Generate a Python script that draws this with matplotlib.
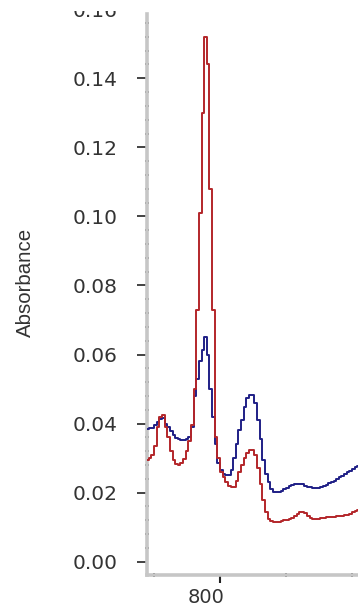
import matplotlib
matplotlib.use("Agg")
import matplotlib.pyplot as plt
from matplotlib import font_manager
from matplotlib.ticker import MultipleLocator, FormatStrFormatter
from matplotlib.transforms import ScaledTranslation
from matplotlib.patches import Rectangle

# Wavelength grid (nm) and the two absorbance spectra
wavelength = [745, 747, 749, 751, 753, 755, 757, 759, 761, 763,
              765, 767, 769, 771, 773, 775, 777, 779, 781, 783,
              785, 787, 789, 791, 793, 795, 797, 799, 801, 803,
              805, 807, 809, 811, 813, 815, 817, 819, 821, 823,
              825, 827, 829, 831, 833, 835, 837, 839, 841, 843,
              845, 847, 849, 851, 853, 855, 857, 859, 861, 863,
              865, 867, 869, 871, 873, 875, 877, 879, 881, 883,
              885, 887, 889, 891, 893, 895, 897, 899, 901, 903, 905]

absorbance_red = [0.0295, 0.0299, 0.0310, 0.0335, 0.0390, 0.0420, 0.0425, 0.0390, 0.0360, 0.0320,
                  0.0295, 0.0282, 0.0280, 0.0285, 0.0298, 0.0320, 0.0350, 0.0395, 0.0500, 0.0730,
                  0.1010, 0.1300, 0.1520, 0.1440, 0.1080, 0.0730, 0.0360, 0.0300, 0.0260, 0.0245,
                  0.0232, 0.0220, 0.0215, 0.0215, 0.0235, 0.0260, 0.0280, 0.0300, 0.0315, 0.0323,
                  0.0323, 0.0310, 0.0270, 0.0225, 0.0180, 0.0145, 0.0125, 0.0118, 0.0116, 0.0116,
                  0.0116, 0.0118, 0.0120, 0.0121, 0.0124, 0.0128, 0.0132, 0.0138, 0.0144, 0.0145,
                  0.0140, 0.0133, 0.0126, 0.0123, 0.0123, 0.0124, 0.0126, 0.0128, 0.0129, 0.0130,
                  0.0130, 0.0130, 0.0131, 0.0132, 0.0133, 0.0134, 0.0136, 0.0139, 0.0143, 0.0147, 0.0150]

absorbance_blue = [0.0385, 0.0386, 0.0388, 0.0395, 0.0405, 0.0413, 0.0415, 0.0400, 0.0390, 0.0378,
                   0.0367, 0.0358, 0.0354, 0.0353, 0.0353, 0.0354, 0.0360, 0.0390, 0.0480, 0.0530,
                   0.0580, 0.0613, 0.0652, 0.0600, 0.0500, 0.0420, 0.0340, 0.0285, 0.0266, 0.0255,
                   0.0251, 0.0252, 0.0266, 0.0300, 0.0340, 0.0380, 0.0410, 0.0449, 0.0475, 0.0483,
                   0.0483, 0.0460, 0.0410, 0.0355, 0.0295, 0.0255, 0.0230, 0.0210, 0.0203, 0.0202,
                   0.0203, 0.0206, 0.0210, 0.0214, 0.0219, 0.0223, 0.0225, 0.0226, 0.0226, 0.0224,
                   0.0220, 0.0217, 0.0215, 0.0213, 0.0213, 0.0214, 0.0217, 0.0220, 0.0223, 0.0227,
                   0.0231, 0.0235, 0.0240, 0.0244, 0.0249, 0.0254, 0.0259, 0.0264, 0.0269, 0.0274, 0.0278]


def has_font(name):
    try:
        font_manager.findfont(font_manager.FontProperties(family=name),
                              fallback_to_default=False)
        return True
    except ValueError:
        return False


W, H = 358, 606
fig = plt.figure(figsize=(W / 100, H / 100), dpi=100)
fig.patch.set_facecolor("white")

ax = fig.add_axes([146.5 / W, 31.5 / H, (W - 146.5) / W, 569.4 / H])
ax.set_facecolor("white")

ax.plot(wavelength, absorbance_blue, drawstyle="steps-mid", color="#1f1f86", lw=1.4, zorder=3)
ax.plot(wavelength, absorbance_red, drawstyle="steps-mid", color="#b3262a", lw=1.4, zorder=4)

ax.set_xlim(744.3, 904.55)
ax.set_ylim(-0.003707, 0.1612)

# Axis lines: light grey bars, only left and bottom
for side in ("top", "right"):
    ax.spines[side].set_visible(False)
for side in ("left", "bottom"):
    ax.spines[side].set_color("#c6c6c6")
    ax.spines[side].set_linewidth(2.6)
ax.spines["left"].set_bounds(-0.003707, 0.1586)

ax.xaxis.set_major_locator(MultipleLocator(200))
ax.xaxis.set_minor_locator(MultipleLocator(50))
ax.yaxis.set_major_locator(MultipleLocator(0.02))
ax.yaxis.set_minor_locator(MultipleLocator(0.004))
ax.yaxis.set_major_formatter(FormatStrFormatter("%.2f"))

tick_font = "DejaVu Sans"
ax.tick_params(axis="y", which="major", direction="out", length=7.2, width=1.2,
               color="#222222", pad=30, labelsize=14.5, labelcolor="#333333")
ax.tick_params(axis="y", which="minor", direction="inout", length=3.0, width=1.1,
               color="#222222")
ax.tick_params(axis="x", which="major", direction="out", length=5.5, width=1.5,
               color="#222222", pad=4.5, labelsize=14, labelcolor="#333333")
ax.tick_params(axis="x", which="minor", direction="inout", length=2.5, width=1.4,
               color="#222222")

for lbl in ax.get_yticklabels():
    lbl.set_horizontalalignment("center")
    lbl.set_fontfamily(tick_font)
shift = ScaledTranslation(-13.5 / 100, 0, fig.dpi_scale_trans)
for lbl in ax.get_xticklabels():
    lbl.set_fontfamily(tick_font)
    lbl.set_transform(lbl.get_transform() + shift)

if has_font("Liberation Sans Narrow"):
    ylab_family, ylab_size = "Liberation Sans Narrow", 18
else:
    ylab_family, ylab_size = "Liberation Sans", 14.7
ax.set_ylabel("Absorbance", fontfamily=ylab_family, fontsize=ylab_size,
              color="#333333", ha="center", va="center")
ax.yaxis.set_label_coords((25 - 146.5) / (W - 146.5), (574.5 - 282.5) / 569.4)

# White band along the top edge of the figure
fig.add_artist(Rectangle((0, 1 - 10.5 / H), 1, 10.5 / H, transform=fig.transFigure,
                         facecolor="white", edgecolor="none", zorder=10))

fig.savefig("out.png", dpi=100, facecolor="white")
